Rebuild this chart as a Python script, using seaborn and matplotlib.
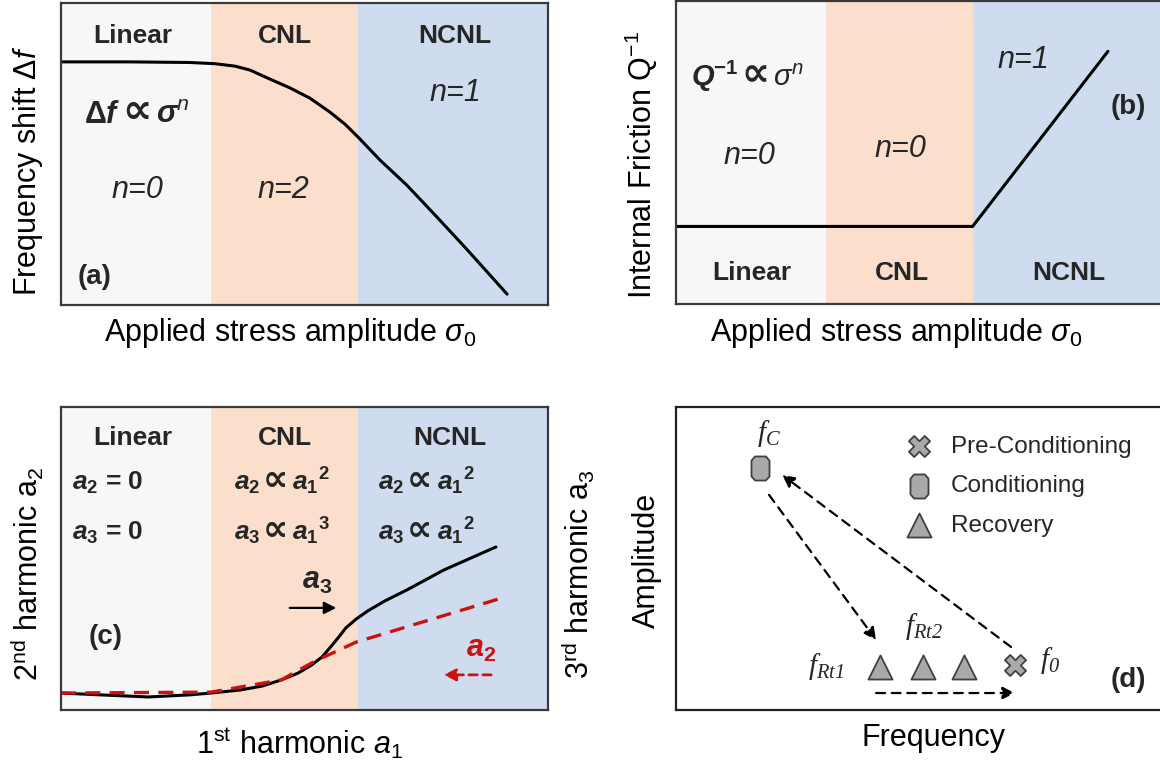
import numpy as np
import pandas as pd
import matplotlib
matplotlib.use("Agg")
import matplotlib.pyplot as plt
from matplotlib.path import Path
import seaborn as sns

sns.set_theme(style="white")
plt.rcParams.update({
    "font.family": ["Liberation Sans", "DejaVu Sans"],
    "mathtext.fontset": "custom",
    "mathtext.rm": "Liberation Sans",
    "mathtext.it": "Liberation Sans:italic",
    "mathtext.bf": "Liberation Sans:bold",
    "mathtext.bfit": "Liberation Sans:italic:bold",
    "mathtext.cal": "Liberation Serif:italic",
    "mathtext.sf": "Liberation Sans",
})

# ---------------- data ----------------
regime_names = ["Linear", "CNL", "NCNL"]
regime_edges = [0.0, 3.07, 6.09, 10.0]
regime_colors = ["#f7f7f7", "#fbdfcc", "#cfdcef"]

# (a) frequency shift vs stress amplitude
stress_a = [0.0, 1.42, 2.65, 3.16, 3.57, 3.88, 4.29, 4.70, 5.11, 5.52, 5.83, 6.10,
            6.55, 7.10, 7.68, 8.25, 8.81, 9.16]
freq_shift = [8.05, 8.05, 8.03, 7.99, 7.91, 7.78, 7.48, 7.19, 6.85, 6.39, 5.99, 5.56,
              4.80, 3.97, 2.98, 1.99, 0.99, 0.36]

# (b) internal friction vs stress amplitude
stress_b = [0.0, 6.09, 8.87]
friction = [2.56, 2.56, 8.34]

# (c) harmonics vs first harmonic
a1_h3 = [0.0, 0.80, 1.79, 2.65, 3.08, 3.68, 4.13, 4.52, 4.87, 5.15, 5.36, 5.52, 5.69,
         5.85, 6.06, 6.30, 6.65, 7.10, 7.86, 8.93]
a3_vals = [0.56, 0.50, 0.43, 0.50, 0.56, 0.66, 0.79, 0.99, 1.22, 1.49, 1.75, 2.05, 2.38,
           2.71, 3.00, 3.27, 3.60, 3.96, 4.62, 5.38]
a1_h2 = [0.0, 3.08, 4.52, 5.2, 6.06, 9.06]
a2_vals = [0.56, 0.59, 0.99, 1.60, 2.24, 3.70]

# (d) resonance states
states = ["Pre-Conditioning", "Conditioning", "Recovery", "Recovery", "Recovery"]
state_freq = [6.96, 1.72, 4.19, 5.07, 5.91]
state_amp = [1.49, 7.99, 1.42, 1.42, 1.42]
state_order = ["Pre-Conditioning", "Conditioning", "Recovery"]
freq_names = [r"$\mathcal{f}_{\mathcal{C}}$", r"$\mathcal{f}_{\mathcal{Rt1}}$",
              r"$\mathcal{f}_{\mathcal{Rt2}}$", r"$\mathcal{f}_{\mathcal{0}}$"]
# arrows (start -> end)
arrow_starts = [(1.91, 7.10), (6.88, 2.08), (4.11, 0.56)]
arrow_ends = [(4.11, 2.31), (2.18, 7.76), (6.96, 0.56)]

# ---------------- figure ----------------
W, H = 1160, 765
fig = plt.figure(figsize=(W / 100, H / 100), dpi=100)

def mk_axes(x0, y_top, y_bot, w=487):
    return fig.add_axes([x0 / W, 1 - y_bot / H, w / W, (y_bot - y_top) / H])

ax_a = mk_axes(61, 3, 305)
ax_b = mk_axes(676, 1, 304)
ax_c = mk_axes(61, 407, 710)
ax_d = mk_axes(676, 407, 710)

LAB = 22
HEAD = 19

def shade(ax):
    for i in range(3):
        ax.axvspan(regime_edges[i], regime_edges[i + 1], color=regime_colors[i], lw=0, zorder=0)

for ax in (ax_a, ax_b, ax_c):
    shade(ax)

def label(ax, x, y, s, rot=0, **kw):
    ax.text(x, y, s, transform=ax.transAxes, rotation=rot, ha="center", va="center",
            fontsize=LAB, color="black", **kw)

def prop_text(ax, xc, yb, left, right, fs, dl=11, dr=12):
    """left ∝ right, with the ∝ centred on xc (baseline yb)."""
    ax.text(xc, yb, "∝", ha="center", va="baseline", fontsize=fs * 1.35, fontweight="bold",
            family=["DejaVu Sans"])
    ax.annotate(left, xy=(xc, yb), xytext=(-dl, 0), textcoords="offset points",
                ha="right", va="baseline", fontsize=fs, fontweight="bold")
    ax.annotate(right, xy=(xc, yb), xytext=(dr, 0), textcoords="offset points",
                ha="left", va="baseline", fontsize=fs, fontweight="bold")

# ---- (a)
sns.lineplot(x=stress_a, y=freq_shift, sort=False, estimator=None, color="black", lw=2.2, ax=ax_a)
for name, xc in zip(regime_names, [1.48, 4.60, 8.09]):
    ax_a.text(xc, 8.9, name, ha="center", va="center", fontsize=HEAD, fontweight="bold")
prop_text(ax_a, 1.56, 6.03, "Δ$\\mathbfit{f}$", "$\\mathbfit{σ}^{\\mathit{n}}$", LAB, 12, 14)
for xc, yc, s in [(1.56, 3.81, "n=0"), (4.56, 3.81, "n=2"), (8.09, 7.02, "n=1")]:
    ax_a.text(xc, yc, s, ha="center", va="center", fontsize=LAB, style="italic")
ax_a.text(0.68, 0.93, "(a)", ha="center", va="center", fontsize=HEAD + 1, fontweight="bold")
label(ax_a, 0.47, -0.093, r"Applied stress amplitude $\sigma_0$")
label(ax_a, -0.068, 0.445, r"Frequency shift Δ$f$", rot=90)

# ---- (b)
sns.lineplot(x=stress_b, y=friction, sort=False, estimator=None, color="black", lw=2.2, ax=ax_b)
for name, xc in zip(regime_names, [1.56, 4.64, 8.07]):
    ax_b.text(xc, 1.03, name, ha="center", va="center", fontsize=HEAD, fontweight="bold")
prop_text(ax_b, 1.62, 7.21, "$\\mathbfit{Q}^{\\mathbf{-1}}$", "$\\mathit{σ}^{\\mathit{n}}$", LAB - 1, 12, 13)
for xc, yc, s in [(1.50, 4.88, "n=0"), (4.60, 5.12, "n=0"), (7.13, 8.04, "n=1")]:
    ax_b.text(xc, yc, s, ha="center", va="center", fontsize=LAB, style="italic")
ax_b.text(9.28, 6.51, "(b)", ha="center", va="center", fontsize=HEAD + 1, fontweight="bold")
label(ax_b, 0.452, -0.096, r"Applied stress amplitude $\sigma_0$")
label(ax_b, -0.072, 0.46, r"Internal Friction Q$^{\mathrm{-1}}$", rot=90)

# ---- (c)
sns.lineplot(x=a1_h3, y=a3_vals, sort=False, estimator=None, color="black", lw=2.2, ax=ax_c)
sns.lineplot(x=a1_h2, y=a2_vals, sort=False, estimator=None, color="#cc1111", lw=2.4,
             ax=ax_c)
ax_c.lines[-1].set_dashes((4.5, 2.8))
for name, xc in zip(regime_names, [1.48, 4.60, 7.99]):
    ax_c.text(xc, 8.98, name, ha="center", va="center", fontsize=HEAD, fontweight="bold")
A = lambda k: "$\\mathbfit{a}_{\\mathbf{%s}}$" % k
A1p = lambda p: "$\\mathbfit{a}_{\\mathbf{1}}{}^{\\mathbf{%s}}$" % p
ax_c.text(0.23, 7.26, A(2) + " = 0", ha="left", va="baseline", fontsize=HEAD, fontweight="bold")
ax_c.text(0.23, 5.61, A(3) + " = 0", ha="left", va="baseline", fontsize=HEAD, fontweight="bold")
prop_text(ax_c, 4.41, 7.26, A(2), A1p(2), HEAD, 11, 12)
prop_text(ax_c, 4.41, 5.61, A(3), A1p(3), HEAD, 11, 12)
prop_text(ax_c, 7.37, 7.26, A(2), A1p(2), HEAD, 11, 12)
prop_text(ax_c, 7.37, 5.61, A(3), A1p(2), HEAD, 11, 12)
ax_c.text(5.26, 4.25, A(3), ha="center", va="center", fontsize=LAB)
ax_c.annotate("", xy=(5.71, 3.37), xytext=(4.64, 3.37),
              arrowprops=dict(arrowstyle="-|>", color="black", lw=1.6, mutation_scale=18))
ax_c.text(8.62, 2.0, A(2), ha="center", va="center", fontsize=LAB, color="#cc1111")
ax_c.annotate("", xy=(7.80, 1.16), xytext=(8.89, 1.16),
              arrowprops=dict(arrowstyle="-|>", color="#cc1111", lw=2.0, ls=(0, (3, 2)), mutation_scale=18))
ax_c.text(0.92, 2.41, "(c)", ha="center", va="center", fontsize=HEAD + 1, fontweight="bold")
label(ax_c, 0.49, -0.109, r"1$^{\mathrm{st}}$ harmonic $a_1$")
label(ax_c, -0.068, 0.449, r"2$^{\mathrm{nd}}$ harmonic $\mathrm{a}_2$", rot=90)
label(ax_c, 1.062, 0.449, r"3$^{\mathrm{rd}}$ harmonic $\mathrm{a}_3$", rot=90)

# ---- (d)
cond_marker = Path([(-0.45, -1.0), (0.45, -1.0), (0.75, -0.65), (0.75, 0.65), (0.45, 1.0),
                    (-0.45, 1.0), (-0.75, 0.65), (-0.75, -0.65), (-0.45, -1.0)], closed=True)
state_markers = {"Pre-Conditioning": "X", "Conditioning": cond_marker, "Recovery": "^"}
state_sizes = {"Pre-Conditioning": 230, "Conditioning": 300, "Recovery": 300}
df_d = pd.DataFrame({"freq": state_freq, "amp": state_amp, "state": states})
for st in state_order:
    sub = df_d[df_d["state"] == st]
    sns.scatterplot(data=sub, x="freq", y="amp", marker=state_markers[st], s=state_sizes[st],
                    color="#a9a9a9", edgecolor="#404040", linewidth=1.3, label=st, ax=ax_d, zorder=3)
ax_d.legend(loc="upper left", bbox_to_anchor=(0.465, 0.905), frameon=False, fontsize=17.5,
            handletextpad=0.6, labelspacing=0.72, borderpad=0, borderaxespad=0, handlelength=1.4)
for (x0, y0), (x1, y1) in zip(arrow_starts, arrow_ends):
    ax_d.annotate("", xy=(x1, y1), xytext=(x0, y0),
                  arrowprops=dict(arrowstyle="-|>", color="black", lw=1.6, ls=(0, (4, 3)),
                                  mutation_scale=18, shrinkA=0, shrinkB=0))
for (xc, yc), s in zip([(1.91, 9.14), (3.08, 1.42), (5.09, 2.74), (7.68, 1.62)], freq_names):
    ax_d.text(xc, yc, s, ha="center", va="center", fontsize=21)
ax_d.text(9.28, 0.99, "(d)", ha="center", va="center", fontsize=HEAD + 1, fontweight="bold")
label(ax_d, 0.528, -0.092, "Frequency")
label(ax_d, -0.06, 0.495, "Amplitude", rot=90)

for ax in (ax_a, ax_b, ax_c, ax_d):
    ax.set_xlim(0, 10)
    ax.set_ylim(0, 10)
    ax.set_xticks([])
    ax.set_yticks([])
    ax.set_xlabel("")
    ax.set_ylabel("")
    for sp in ax.spines.values():
        sp.set_color("#3a3a3a" if ax is not ax_d else "#222222")
        sp.set_linewidth(1.6)
        sp.set_visible(True)

fig.savefig("out.png", dpi=100)
